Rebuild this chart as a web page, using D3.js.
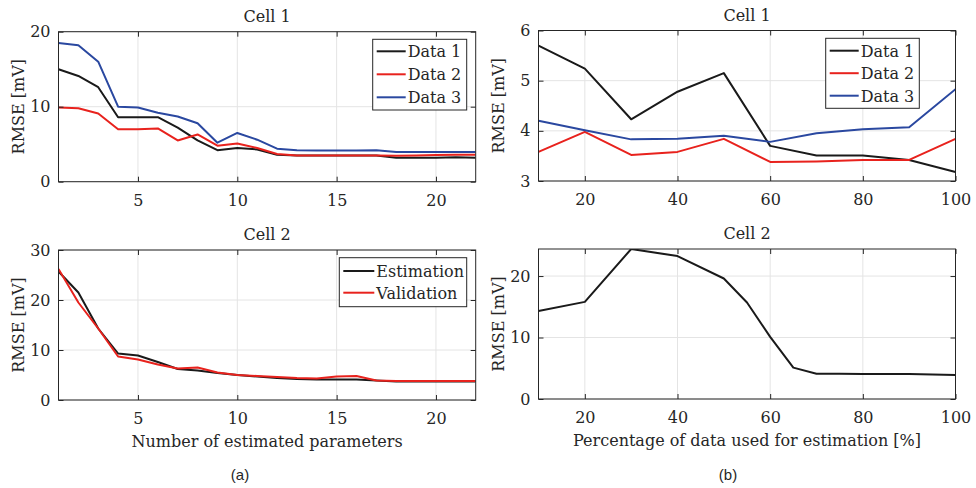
<!DOCTYPE html>
<html><head><meta charset="utf-8">
<script src="https://cdn.jsdelivr.net/npm/d3@7"></script>
<style>
body{margin:0;background:#fff}
svg{display:block}
text{font-family:"DejaVu Serif","Liberation Serif",serif;fill:#262626}
</style>
</head><body>
<svg id="c" width="976" height="488"></svg>
<script>
// ---------- data ----------
const nParams = [1,2,3,4,5,6,7,8,9,10,11,12,13,14,15,16,17,18,19,20,21,22];
const c1ParamData1 = [15.0,14.1,12.6,8.6,8.6,8.6,7.2,5.5,4.2,4.5,4.3,3.6,3.5,3.5,3.5,3.5,3.5,3.2,3.2,3.2,3.25,3.2];
const c1ParamData2 = [9.9,9.8,9.1,7.0,7.0,7.1,5.5,6.3,4.8,5.1,4.5,3.7,3.5,3.5,3.5,3.5,3.5,3.45,3.5,3.55,3.6,3.6];
const c1ParamData3 = [18.5,18.2,16.0,10.0,9.9,9.2,8.7,7.8,5.2,6.5,5.6,4.4,4.2,4.15,4.15,4.15,4.2,3.95,3.95,3.95,3.95,3.95];
const c2ParamEst   = [25.7,21.5,14.3,9.3,8.9,7.6,6.2,5.9,5.4,5.0,4.7,4.4,4.2,4.1,4.1,4.1,3.9,3.7,3.7,3.7,3.7,3.7];
const c2ParamVal   = [26.2,19.5,14.3,8.7,8.1,7.1,6.3,6.5,5.5,5.0,4.8,4.6,4.4,4.3,4.7,4.8,3.9,3.8,3.8,3.8,3.8,3.8];

const pct = [10,20,30,40,50,60,70,80,90,100];
const c1PctData1 = [5.70,5.24,4.23,4.78,5.15,3.70,3.51,3.51,3.42,3.18];
const c1PctData2 = [3.58,3.98,3.52,3.58,3.84,3.38,3.39,3.42,3.42,3.84];
const c1PctData3 = [4.20,4.01,3.83,3.84,3.90,3.78,3.95,4.03,4.07,4.83];
const pct2 = [10,20,30,40,50,55,60,65,70,75,80,85,90,95,100];
const c2PctRmse = [14.3,15.8,24.4,23.25,19.6,15.7,10.1,5.1,4.1,4.1,4.05,4.05,4.05,4.0,3.9];

const ticksParamsX = [5,10,15,20];
const ticksPctX = [20,40,60,80,100];

const COL = {black:"#1a1a1a", red:"#e8221d", blue:"#2a48a0"};
const FONT = "DejaVu Serif, Liberation Serif, serif";
const FS = "16px";

const svg = d3.select("#c");
let clipId = 0;

function panel(o){
  const x = d3.scaleLinear().domain(o.xDomain).range([o.left,o.right]);
  const y = d3.scaleLinear().domain(o.yDomain).range([o.bottom,o.top]);
  const g = svg.append("g");
  const id = "clip"+(clipId++);
  g.append("clipPath").attr("id",id).append("rect")
    .attr("x",o.left).attr("y",o.top).attr("width",o.right-o.left).attr("height",o.bottom-o.top);
  // grid
  g.append("g").selectAll("line").data(o.xTicks).join("line")
    .attr("x1",d=>x(d)).attr("x2",d=>x(d)).attr("y1",o.top).attr("y2",o.bottom)
    .attr("stroke","#e4e4e4").attr("stroke-width",1);
  g.append("g").selectAll("line").data(o.yTicks).join("line")
    .attr("x1",o.left).attr("x2",o.right).attr("y1",d=>y(d)).attr("y2",d=>y(d))
    .attr("stroke","#e4e4e4").attr("stroke-width",1);
  // series
  const line = d3.line().x(d=>x(d[0])).y(d=>y(d[1]));
  const sg = g.append("g").attr("clip-path",`url(#${id})`);
  o.series.forEach(s=>{
    sg.append("path").datum(s.x.map((v,i)=>[v,s.y[i]]))
      .attr("d",line).attr("fill","none").attr("stroke",s.color)
      .attr("stroke-width",2).attr("stroke-linejoin","round");
  });
  // axes
  const ax = (gen,tr,labels)=>{
    const a = g.append("g").attr("transform",tr).call(gen);
    a.select(".domain").remove();
    a.selectAll("line").attr("stroke","#262626");
    a.selectAll("text").style("font-size",FS).style("font-family",FONT).attr("fill","#262626");
    if(!labels) a.selectAll("text").remove();
    return a;
  };
  ax(d3.axisBottom(x).tickValues(o.xTicks).tickSize(-5).tickPadding(13).tickFormat(d3.format("d")),`translate(0,${o.bottom})`,true);
  ax(d3.axisTop(x).tickValues(o.xTicks).tickSize(-5),`translate(0,${o.top})`,false);
  ax(d3.axisLeft(y).tickValues(o.yTicks).tickSize(-5).tickPadding(8).tickFormat(d3.format("d")),`translate(${o.left},0)`,true);
  ax(d3.axisRight(y).tickValues(o.yTicks).tickSize(-5),`translate(${o.right},0)`,false);
  // box
  g.append("rect").attr("x",o.left).attr("y",o.top).attr("width",o.right-o.left).attr("height",o.bottom-o.top)
    .attr("fill","none").attr("stroke","#262626").attr("stroke-width",1);
  // title
  g.append("text").attr("x",(o.left+o.right)/2).attr("y",o.top-10).attr("text-anchor","middle")
    .style("font-size",FS).text(o.title);
  // y label
  g.append("text").attr("transform",`translate(${o.yLabelX},${(o.top+o.bottom)/2}) rotate(-90)`)
    .attr("text-anchor","middle").style("font-size",FS).text("RMSE [mV]");
  if(o.xLabel){
    g.append("text").attr("x",(o.left+o.right)/2).attr("y",o.bottom+47).attr("text-anchor","middle")
      .style("font-size",FS).text(o.xLabel);
  }
  // legend
  if(o.legend){
    const L = o.legend;
    const lg = g.append("g");
    lg.append("rect").attr("x",L.x).attr("y",L.y).attr("width",L.w).attr("height",L.h)
      .attr("fill","#fff").attr("stroke","#262626").attr("stroke-width",1);
    o.series.forEach((s,i)=>{
      const ry = L.y + L.row0 + i*L.dy;
      lg.append("line").attr("x1",L.x+4).attr("x2",L.x+4+L.lw).attr("y1",ry).attr("y2",ry)
        .attr("stroke",s.color).attr("stroke-width",2);
      lg.append("text").attr("x",L.x+4+L.lw+2).attr("y",ry+6)
        .style("font-size",FS).text(s.name);
    });
  }
}

panel({left:58.5,right:475.7,top:31.7,bottom:181.7,xDomain:[1,22],yDomain:[0,20],
  xTicks:ticksParamsX,yTicks:[0,10,20],title:"Cell 1",yLabelX:24,
  series:[{name:"Data 1",x:nParams,y:c1ParamData1,color:COL.black},
          {name:"Data 2",x:nParams,y:c1ParamData2,color:COL.red},
          {name:"Data 3",x:nParams,y:c1ParamData3,color:COL.blue}],
  legend:{x:372.7,y:39.3,w:94,h:70.7,row0:12,dy:23,lw:29}});

panel({left:538.5,right:955.5,top:30.5,bottom:181,xDomain:[10,100],yDomain:[3,6],
  xTicks:ticksPctX,yTicks:[3,4,5,6],title:"Cell 1",yLabelX:504,
  series:[{name:"Data 1",x:pct,y:c1PctData1,color:COL.black},
          {name:"Data 2",x:pct,y:c1PctData2,color:COL.red},
          {name:"Data 3",x:pct,y:c1PctData3,color:COL.blue}],
  legend:{x:825.7,y:38.3,w:93.6,h:70,row0:12.4,dy:22.5,lw:29}});

panel({left:58.5,right:475.7,top:250,bottom:400,xDomain:[1,22],yDomain:[0,30],
  xTicks:ticksParamsX,yTicks:[0,10,20,30],title:"Cell 2",yLabelX:24,
  xLabel:"Number of estimated parameters",
  series:[{name:"Estimation",x:nParams,y:c2ParamEst,color:COL.black},
          {name:"Validation",x:nParams,y:c2ParamVal,color:COL.red}],
  legend:{x:339.3,y:257.7,w:127.4,h:49,row0:13.3,dy:21.7,lw:31}});

panel({left:538.5,right:955.5,top:249,bottom:399,xDomain:[10,100],yDomain:[0,24.4],
  xTicks:ticksPctX,yTicks:[0,10,20],title:"Cell 2",yLabelX:504,
  xLabel:"Percentage of data used for estimation [%]",
  series:[{name:"",x:pct2,y:c2PctRmse,color:COL.black}]});

svg.append("text").attr("x",240).attr("y",480).attr("text-anchor","middle")
  .style("font-family","Liberation Sans, Arial, sans-serif").style("font-size","15px").text("(a)");
svg.append("text").attr("x",728).attr("y",480).attr("text-anchor","middle")
  .style("font-family","Liberation Sans, Arial, sans-serif").style("font-size","15px").text("(b)");
</script>
</body></html>
